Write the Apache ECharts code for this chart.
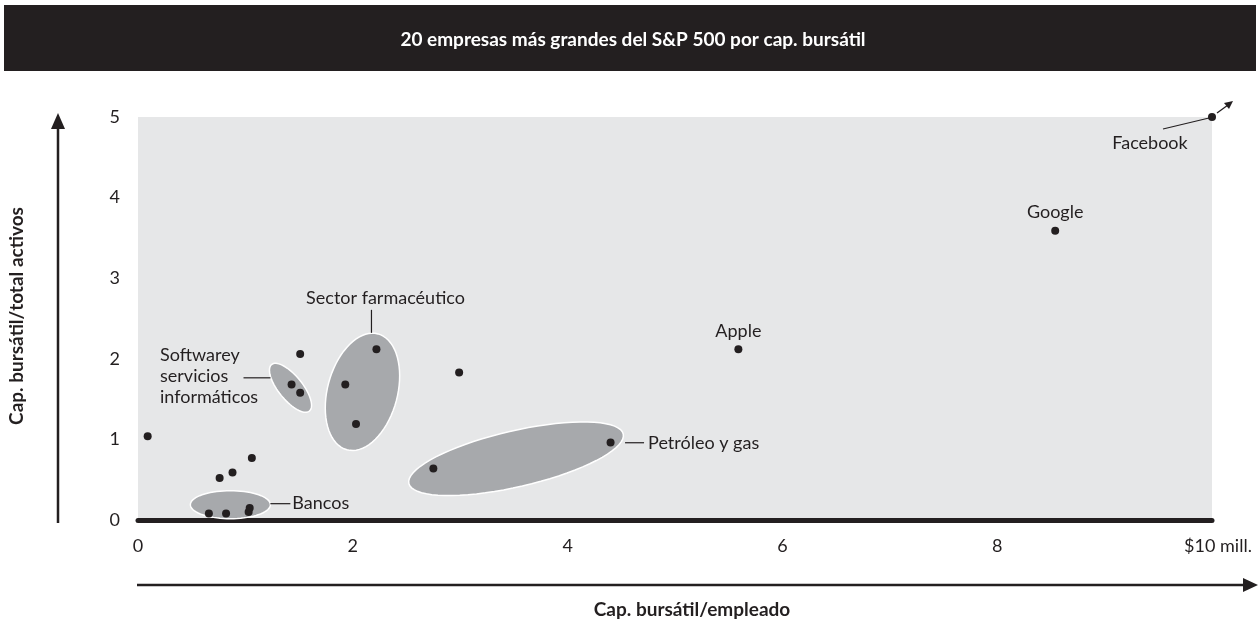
<!DOCTYPE html>
<html>
<head>
<meta charset="utf-8">
<title>20 empresas más grandes del S&amp;P 500 por cap. bursátil</title>
<style>
  html, body { margin: 0; padding: 0; background: #fff; }
  #main { width: 1260px; height: 622px; }
</style>
</head>
<body>
<div id="main"></div>
<script src="https://cdn.jsdelivr.net/npm/echarts@6/dist/echarts.min.js"></script>
<script>
// datos: cap. bursátil/empleado (mill. $) y cap. bursátil/total activos
var empresas = ['A', 'B1', 'B2', 'B3', 'B4', 'C', 'D', 'E', 'S1', 'S2', 'F', 'P1', 'P2', 'P3', 'G', 'O1', 'O2', 'Apple', 'Google', 'Facebook'];
var capEmpleado = [0.09, 0.66, 0.82, 1.03, 1.04, 0.76, 0.88, 1.06, 1.43, 1.51, 1.51, 2.22, 1.93, 2.03, 2.99, 2.75, 4.40, 5.59, 8.54, 10.0];
var capActivos = [1.04, 0.08, 0.08, 0.10, 0.15, 0.52, 0.59, 0.77, 1.68, 1.58, 2.06, 2.12, 1.68, 1.19, 1.83, 0.64, 0.96, 2.12, 3.59, 5.0];
var xTicks = ['0', '2', '4', '6', '8', '$10 mill.'];
var yTicks = ['0', '1', '2', '3', '4', '5'];

// grupos sectoriales (centro en unidades de datos)
var grupos = ['Bancos', 'Software', 'Farma', 'Petróleo'];
var grupoX = [0.86, 1.42, 2.09, 3.52];
var grupoY = [0.19, 1.64, 1.59, 0.76];
// forma de cada elipse en píxeles: semieje a, semieje b, giro (grados)
var forma = [[40, 14, 0], [30, 12, 51], [60, 35, -75], [110, 28, -13]];

var TXT = '#231f20';
var FONT = 'Lato, "Noto Sans", sans-serif';

var chart = echarts.init(document.getElementById('main'));

var puntos = capEmpleado.map(function (x, i) {
  var d = { name: empresas[i], value: [x, capActivos[i]] };
  if (empresas[i] === 'Apple' || empresas[i] === 'Google') {
    d.label = { show: true, position: 'top', distance: 5, formatter: '{b}', color: TXT, fontSize: 18, fontFamily: FONT };
  }
  return d;
});

var option = {
  animation: false,
  backgroundColor: '#fff',
  grid: { left: 138, right: 48, top: 117, bottom: 102, show: true, backgroundColor: '#e6e7e8', borderWidth: 0 },
  xAxis: {
    type: 'value', min: 0, max: 10, interval: 2,
    axisLine: { show: true, onZero: false, lineStyle: { color: TXT, width: 5 } },
    axisTick: { show: false },
    splitLine: { show: false },
    axisLabel: {
      margin: 17, color: TXT, fontSize: 18, fontFamily: FONT,
      formatter: function (v) {
        var s = xTicks[Math.round(v / 2)];
        return v === 10 ? '{m|' + s + '}' : s;
      },
      rich: { m: { padding: [0, 0, 0, 12], fontSize: 18, fontFamily: FONT, color: TXT } }
    }
  },
  yAxis: {
    type: 'value', min: 0, max: 5, interval: 1,
    axisLine: { show: false }, axisTick: { show: false }, splitLine: { show: false },
    axisLabel: {
      margin: 18, color: TXT, fontSize: 18, fontFamily: FONT,
      formatter: function (v) { return yTicks[v]; }
    }
  },
  series: [
    {
      type: 'custom', z: 1, silent: true,
      data: grupos.map(function (g, i) { return [grupoX[i], grupoY[i], i]; }),
      renderItem: function (params, api) {
        var c = api.coord([api.value(0), api.value(1)]);
        var f = forma[api.value(2)];
        var t = f[2] * Math.PI / 180, pts = [];
        for (var k = 0; k < 72; k++) {
          var u = k / 72 * Math.PI * 2;
          var ex = f[0] * Math.cos(u), ey = f[1] * Math.sin(u);
          pts.push([c[0] + ex * Math.cos(t) - ey * Math.sin(t), c[1] + ex * Math.sin(t) + ey * Math.cos(t)]);
        }
        return {
          type: 'polygon',
          shape: { points: pts },
          style: { fill: '#a7a9ac', stroke: '#ffffff', lineWidth: 1.5 }
        };
      },
      clip: true
    },
    {
      type: 'scatter', z: 3,
      symbol: 'circle', symbolSize: 8,
      itemStyle: { color: TXT, opacity: 1 },
      emphasis: { disabled: true },
      data: puntos
    }
  ],
  graphic: [
    { type: 'rect', shape: { x: 4, y: 5, width: 1252, height: 66 }, style: { fill: '#231f20' } },
    { type: 'text', x: 633, y: 40, style: { text: '20 empresas más grandes del S&P 500 por cap. bursátil', fill: '#fff', font: 'bold 19px ' + FONT, align: 'center', verticalAlign: 'middle' } },
    // eje vertical con flecha
    { type: 'line', shape: { x1: 58, y1: 523, x2: 58, y2: 125 }, style: { stroke: TXT, lineWidth: 2.5 } },
    { type: 'polygon', shape: { points: [[58, 113], [51, 129], [65, 129]] }, style: { fill: TXT } },
    { type: 'text', x: 17, y: 316, rotation: Math.PI / 2, style: { text: 'Cap. bursátil/total activos', fill: TXT, font: 'bold 19px ' + FONT, align: 'center', verticalAlign: 'middle' } },
    // eje horizontal con flecha
    { type: 'line', shape: { x1: 137, y1: 585, x2: 1246, y2: 585 }, style: { stroke: TXT, lineWidth: 2.5 } },
    { type: 'polygon', shape: { points: [[1258, 585], [1243, 578], [1243, 592]] }, style: { fill: TXT } },
    { type: 'text', x: 692, y: 610, style: { text: 'Cap. bursátil/empleado', fill: TXT, font: 'bold 19px ' + FONT, align: 'center', verticalAlign: 'middle' } }
  ]
};
chart.setOption(option);

// anotaciones situadas con las escalas del gráfico
function px(x, y) { return chart.convertToPixel({ gridIndex: 0 }, [x, y]); }
function etiqueta(x, y, txt, align) {
  return { type: 'text', x: x, y: y, z: 10, style: { text: txt, fill: TXT, font: '18px ' + FONT, align: align || 'left', verticalAlign: 'middle', lineHeight: 21 } };
}
function raya(a, b) {
  return { type: 'line', z: 10, shape: { x1: a[0], y1: a[1], x2: b[0], y2: b[1] }, style: { stroke: TXT, lineWidth: 1.2 } };
}
var fb = px(10, 5);
var banc = px(grupoX[0], grupoY[0]), soft = px(grupoX[1], grupoY[1]), farma = px(grupoX[2], grupoY[2]), oil = px(grupoX[3], grupoY[3]);
var extra = [
  raya([banc[0] + forma[0][0], banc[1] - 1], [banc[0] + forma[0][0] + 20, banc[1] - 1]),
  etiqueta(banc[0] + forma[0][0] + 22, banc[1] - 1, 'Bancos'),
  raya([soft[0] - 47, soft[1] - 10], [soft[0] - 20, soft[1] - 10]),
  etiqueta(160, soft[1] - 12, 'Softwarey\nservicios\ninformáticos'),
  raya([farma[0] + 9, farma[1] - 82], [farma[0] + 9, farma[1] - 59]),
  etiqueta(farma[0] + 23, farma[1] - 94, 'Sector farmacéutico', 'center'),
  raya([oil[0] + 109, oil[1] - 16], [oil[0] + 128, oil[1] - 16]),
  etiqueta(oil[0] + 132, oil[1] - 16, 'Petróleo y gas'),
  raya([fb[0] - 49, fb[1] + 12], [fb[0] - 3, fb[1] + 1]),
  etiqueta(fb[0] - 62, fb[1] + 26, 'Facebook', 'center'),
  raya([fb[0] + 5, fb[1] - 4], [fb[0] + 16, fb[1] - 12]),
  { type: 'polygon', z: 10, shape: { points: [[fb[0] + 21, fb[1] - 16], [fb[0] + 12, fb[1] - 14], [fb[0] + 17, fb[1] - 8]] }, style: { fill: TXT } }
];
chart.setOption({ graphic: option.graphic.concat(extra) });
</script>
</body>
</html>
